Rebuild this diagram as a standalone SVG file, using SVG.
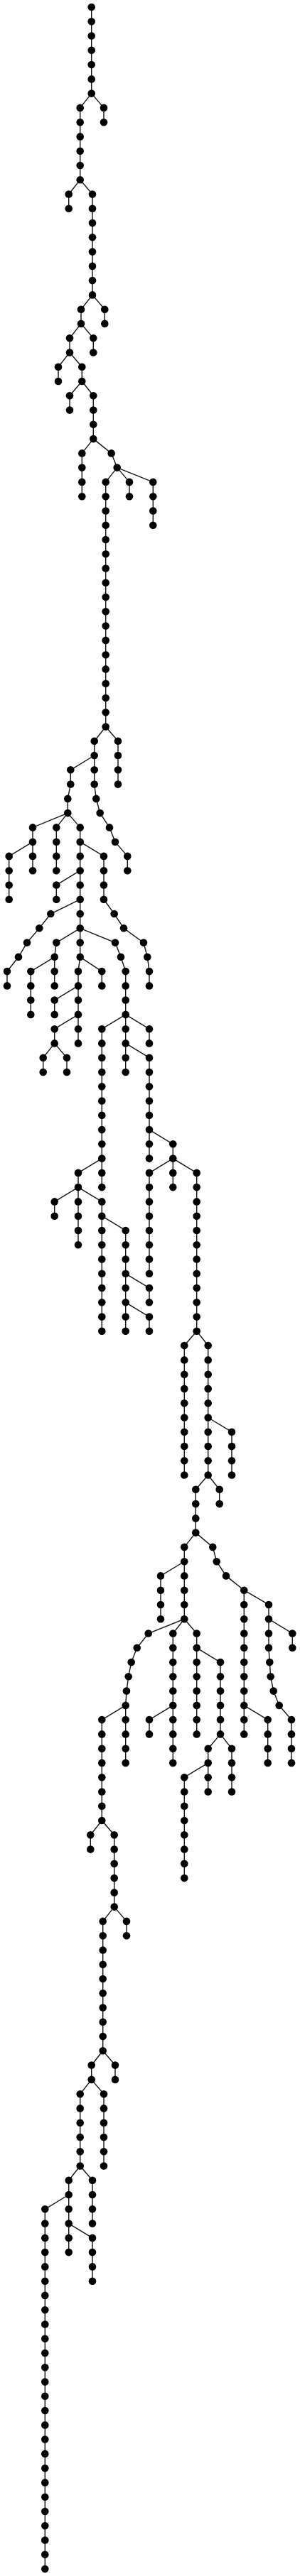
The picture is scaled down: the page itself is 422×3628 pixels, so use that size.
<svg xmlns="http://www.w3.org/2000/svg" width="422" height="3628" viewBox="0 0 422 3628">
<style>
rect.bg{fill:#fff}
#edges path{fill:none;stroke:#111;stroke-width:1.4}
.nodes circle{fill:#000}
</style>
<rect class="bg" x="0" y="0" width="422" height="3628"/>
<g id="edges">
<path d="M128.7 10V131.6"/>
<path d="M128.7 131.6L146 151.9V172.2"/>
<path d="M128.7 131.6L112.7 151.9V253.2"/>
<path d="M112.7 253.2L96.7 273.5V293.8"/>
<path d="M112.7 253.2L130 273.5V415.4"/>
<path d="M130 415.4L147.3 435.7V455.9"/>
<path d="M130 415.4L114 435.7V455.9"/>
<path d="M114 455.9L131.3 476.2V496.5"/>
<path d="M114 455.9L98 476.2V496.5"/>
<path d="M98 496.5L82 516.8V537"/>
<path d="M98 496.5L115.3 516.8V537"/>
<path d="M115.3 537L98 557.3V577.6"/>
<path d="M115.3 537L131.3 557.3V618.1"/>
<path d="M131.3 618.1L115.3 638.4V699.2"/>
<path d="M131.3 618.1L156.7 638.4L164.7 658.6"/>
<path d="M164.7 658.6L182 678.9V699.2"/>
<path d="M164.7 658.6L215.3 678.9V739.7"/>
<path d="M164.7 658.6L148.7 678.9V1023.5"/>
<path d="M148.7 1023.5L166 1043.8V1104.6"/>
<path d="M148.7 1023.5L132.7 1043.8V1064"/>
<path d="M132.7 1064L99.3 1084.3V1104.6L95.3 1124.9V1145.1"/>
<path d="M132.7 1064V1104.6L135.3 1124.9L140.7 1145.1L154 1165.4L162 1185.7L179.3 1205.9V1226.2"/>
<path d="M95.3 1145.1L46 1165.4V1185.7"/>
<path d="M95.3 1145.1L79.3 1165.4V1226.2"/>
<path d="M95.3 1145.1L112.7 1165.4V1185.7"/>
<path d="M46 1185.7L12.7 1205.9V1266.7"/>
<path d="M46 1185.7V1226.2"/>
<path d="M112.7 1185.7L146 1205.9V1266.7L160.7 1287L174 1307.3L202 1327.6L207.3 1347.8L210 1368.1V1388.4"/>
<path d="M112.7 1185.7V1226.2"/>
<path d="M112.7 1226.2L79.3 1246.5V1266.7"/>
<path d="M112.7 1226.2V1266.7"/>
<path d="M112.7 1266.7L71.3 1287L55.3 1307.3L38 1327.6L26 1347.8L10 1368.1V1388.4"/>
<path d="M112.7 1266.7V1307.3"/>
<path d="M112.7 1307.3L79.3 1327.6L76.7 1347.8"/>
<path d="M112.7 1307.3V1347.8"/>
<path d="M112.7 1307.3L162 1327.6L170 1347.8L176.7 1368.1V1428.9"/>
<path d="M76.7 1347.8L43.3 1368.1V1428.9"/>
<path d="M76.7 1347.8V1388.4"/>
<path d="M112.7 1347.8L110 1368.1V1388.4"/>
<path d="M112.7 1347.8L143.3 1368.1V1388.4"/>
<path d="M110 1388.4L76.7 1408.6V1428.9"/>
<path d="M110 1388.4V1428.9"/>
<path d="M110 1428.9L76.7 1449.2V1469.4"/>
<path d="M110 1428.9V1469.4"/>
<path d="M76.7 1469.4L60.7 1489.7V1510"/>
<path d="M76.7 1469.4L94 1489.7V1510"/>
<path d="M176.7 1428.9L143.3 1449.2V1631.6"/>
<path d="M176.7 1428.9V1469.4"/>
<path d="M176.7 1428.9L210 1449.2V1469.4"/>
<path d="M176.7 1469.4V1510"/>
<path d="M176.7 1469.4L210 1489.7V1591.1"/>
<path d="M210 1591.1V1631.6"/>
<path d="M210 1591.1L243.3 1611.3V1631.6"/>
<path d="M243.3 1631.6L210 1651.9V1793.8"/>
<path d="M243.3 1631.6V1672.1"/>
<path d="M243.3 1631.6L276.7 1651.9V1874.8"/>
<path d="M143.3 1631.6L110 1651.9V1672.1"/>
<path d="M143.3 1631.6V1672.1"/>
<path d="M110 1672.1L76.7 1692.4V1712.7"/>
<path d="M110 1672.1V1753.2"/>
<path d="M110 1672.1L143.3 1692.4V1712.7"/>
<path d="M143.3 1712.7V1874.8"/>
<path d="M143.3 1712.7L176.7 1733V1793.8"/>
<path d="M176.7 1793.8V1834.3"/>
<path d="M176.7 1793.8L210 1814V1834.3"/>
<path d="M176.7 1834.3V1874.8"/>
<path d="M176.7 1834.3L210 1854.6V1874.8"/>
<path d="M276.7 1874.8L259.3 1895.1V2077.5"/>
<path d="M276.7 1874.8L292.7 1895.1V1996.5"/>
<path d="M292.7 1996.5L326 2016.7V2077.5"/>
<path d="M292.7 1996.5V2077.5"/>
<path d="M292.7 2077.5L275.3 2097.8V2158.6"/>
<path d="M292.7 2077.5L308.7 2097.8V2118.1"/>
<path d="M275.3 2158.6L259.3 2178.9V2199.2"/>
<path d="M275.3 2158.6L299.3 2178.9L304.7 2199.2L318 2219.4L343.3 2239.7"/>
<path d="M259.3 2199.2L226 2219.4V2280.2"/>
<path d="M259.3 2199.2V2280.2"/>
<path d="M259.3 2280.2L208.7 2300.5L192.7 2320.8L184.7 2341.1L180.7 2361.3L178 2381.6L176.7 2401.9"/>
<path d="M259.3 2280.2L243.3 2300.5V2401.9"/>
<path d="M259.3 2280.2L276.7 2300.5V2320.8"/>
<path d="M176.7 2401.9L143.3 2422.1V2564"/>
<path d="M176.7 2401.9V2482.9"/>
<path d="M243.3 2401.9L210 2422.1V2442.4"/>
<path d="M243.3 2401.9V2482.9"/>
<path d="M276.7 2320.8V2442.4"/>
<path d="M276.7 2320.8L310 2341.1V2442.4"/>
<path d="M310 2442.4L292.7 2462.7V2482.9"/>
<path d="M310 2442.4L326 2462.7V2523.5"/>
<path d="M292.7 2482.9L259.3 2503.2V2645.1"/>
<path d="M292.7 2482.9V2523.5"/>
<path d="M343.3 2239.7V2401.9"/>
<path d="M343.3 2239.7L378 2260V2280.2"/>
<path d="M343.3 2401.9V2442.4"/>
<path d="M343.3 2401.9L376.7 2422.1V2482.9"/>
<path d="M378 2280.2L411.3 2300.5V2320.8"/>
<path d="M378 2280.2V2320.8L379.3 2341.1L380.7 2361.3L384.7 2381.6L392.7 2401.9L410 2422.1V2482.9"/>
<path d="M143.3 2564L127.3 2584.3V2604.6"/>
<path d="M143.3 2564L160.7 2584.3V2685.6"/>
<path d="M160.7 2685.6L144.7 2705.9V2888.3"/>
<path d="M160.7 2685.6L178 2705.9V2726.2"/>
<path d="M144.7 2888.3L162 2908.6V2928.9"/>
<path d="M144.7 2888.3L128.7 2908.6V2928.9"/>
<path d="M128.7 2928.9L112.7 2949.2V3050.5"/>
<path d="M128.7 2928.9L146 2949.2V3050.5"/>
<path d="M112.7 3050.5L130 3070.8V3131.6"/>
<path d="M112.7 3050.5L96.7 3070.8V3091"/>
<path d="M96.7 3091L63.3 3111.3V3618.1"/>
<path d="M96.7 3091V3131.6"/>
<path d="M96.7 3131.6V3172.1"/>
<path d="M96.7 3131.6L130 3151.9V3212.7"/>
</g>
<g class="nodes">
<g id="n0"><circle cx="128.7" cy="10" r="5.3"/></g>
<g id="n1"><circle cx="128.7" cy="30.3" r="5.3"/></g>
<g id="n2"><circle cx="128.7" cy="50.5" r="5.3"/></g>
<g id="n3"><circle cx="128.7" cy="70.8" r="5.3"/></g>
<g id="n4"><circle cx="128.7" cy="91.1" r="5.3"/></g>
<g id="n5"><circle cx="128.7" cy="111.4" r="5.3"/></g>
<g id="n6"><circle cx="128.7" cy="131.6" r="5.3"/></g>
<g id="n7"><circle cx="146" cy="151.9" r="5.3"/></g>
<g id="n8"><circle cx="146" cy="172.2" r="5.3"/></g>
<g id="n9"><circle cx="112.7" cy="151.9" r="5.3"/></g>
<g id="n10"><circle cx="112.7" cy="172.2" r="5.3"/></g>
<g id="n11"><circle cx="112.7" cy="192.4" r="5.3"/></g>
<g id="n12"><circle cx="112.7" cy="212.7" r="5.3"/></g>
<g id="n13"><circle cx="112.7" cy="233" r="5.3"/></g>
<g id="n14"><circle cx="112.7" cy="253.2" r="5.3"/></g>
<g id="n15"><circle cx="96.7" cy="273.5" r="5.3"/></g>
<g id="n16"><circle cx="96.7" cy="293.8" r="5.3"/></g>
<g id="n17"><circle cx="130" cy="273.5" r="5.3"/></g>
<g id="n18"><circle cx="130" cy="293.8" r="5.3"/></g>
<g id="n19"><circle cx="130" cy="314.1" r="5.3"/></g>
<g id="n20"><circle cx="130" cy="334.3" r="5.3"/></g>
<g id="n21"><circle cx="130" cy="354.6" r="5.3"/></g>
<g id="n22"><circle cx="130" cy="374.9" r="5.3"/></g>
<g id="n23"><circle cx="130" cy="395.1" r="5.3"/></g>
<g id="n24"><circle cx="130" cy="415.4" r="5.3"/></g>
<g id="n25"><circle cx="147.3" cy="435.7" r="5.3"/></g>
<g id="n26"><circle cx="147.3" cy="455.9" r="5.3"/></g>
<g id="n27"><circle cx="114" cy="435.7" r="5.3"/></g>
<g id="n28"><circle cx="114" cy="455.9" r="5.3"/></g>
<g id="n29"><circle cx="131.3" cy="476.2" r="5.3"/></g>
<g id="n30"><circle cx="131.3" cy="496.5" r="5.3"/></g>
<g id="n31"><circle cx="98" cy="476.2" r="5.3"/></g>
<g id="n32"><circle cx="98" cy="496.5" r="5.3"/></g>
<g id="n33"><circle cx="82" cy="516.8" r="5.3"/></g>
<g id="n34"><circle cx="82" cy="537" r="5.3"/></g>
<g id="n35"><circle cx="115.3" cy="516.8" r="5.3"/></g>
<g id="n36"><circle cx="115.3" cy="537" r="5.3"/></g>
<g id="n37"><circle cx="98" cy="557.3" r="5.3"/></g>
<g id="n38"><circle cx="98" cy="577.6" r="5.3"/></g>
<g id="n39"><circle cx="131.3" cy="557.3" r="5.3"/></g>
<g id="n40"><circle cx="131.3" cy="577.6" r="5.3"/></g>
<g id="n41"><circle cx="131.3" cy="597.8" r="5.3"/></g>
<g id="n42"><circle cx="131.3" cy="618.1" r="5.3"/></g>
<g id="n43"><circle cx="115.3" cy="638.4" r="5.3"/></g>
<g id="n44"><circle cx="115.3" cy="658.6" r="5.3"/></g>
<g id="n45"><circle cx="115.3" cy="678.9" r="5.3"/></g>
<g id="n46"><circle cx="115.3" cy="699.2" r="5.3"/></g>
<g id="n47"><circle cx="156.7" cy="638.4" r="5.3"/></g>
<g id="n48"><circle cx="164.7" cy="658.6" r="5.3"/></g>
<g id="n49"><circle cx="182" cy="678.9" r="5.3"/></g>
<g id="n50"><circle cx="182" cy="699.2" r="5.3"/></g>
<g id="n51"><circle cx="215.3" cy="678.9" r="5.3"/></g>
<g id="n52"><circle cx="215.3" cy="699.2" r="5.3"/></g>
<g id="n53"><circle cx="215.3" cy="719.5" r="5.3"/></g>
<g id="n54"><circle cx="215.3" cy="739.7" r="5.3"/></g>
<g id="n55"><circle cx="148.7" cy="678.9" r="5.3"/></g>
<g id="n56"><circle cx="148.7" cy="699.2" r="5.3"/></g>
<g id="n57"><circle cx="148.7" cy="719.5" r="5.3"/></g>
<g id="n58"><circle cx="148.7" cy="739.7" r="5.3"/></g>
<g id="n59"><circle cx="148.7" cy="760" r="5.3"/></g>
<g id="n60"><circle cx="148.7" cy="780.3" r="5.3"/></g>
<g id="n61"><circle cx="148.7" cy="800.5" r="5.3"/></g>
<g id="n62"><circle cx="148.7" cy="820.8" r="5.3"/></g>
<g id="n63"><circle cx="148.7" cy="841.1" r="5.3"/></g>
<g id="n64"><circle cx="148.7" cy="861.3" r="5.3"/></g>
<g id="n65"><circle cx="148.7" cy="881.6" r="5.3"/></g>
<g id="n66"><circle cx="148.7" cy="901.9" r="5.3"/></g>
<g id="n67"><circle cx="148.7" cy="922.2" r="5.3"/></g>
<g id="n68"><circle cx="148.7" cy="942.4" r="5.3"/></g>
<g id="n69"><circle cx="148.7" cy="962.7" r="5.3"/></g>
<g id="n70"><circle cx="148.7" cy="983" r="5.3"/></g>
<g id="n71"><circle cx="148.7" cy="1003.2" r="5.3"/></g>
<g id="n72"><circle cx="148.7" cy="1023.5" r="5.3"/></g>
<g id="n73"><circle cx="166" cy="1043.8" r="5.3"/></g>
<g id="n74"><circle cx="166" cy="1064" r="5.3"/></g>
<g id="n75"><circle cx="166" cy="1084.3" r="5.3"/></g>
<g id="n76"><circle cx="166" cy="1104.6" r="5.3"/></g>
<g id="n77"><circle cx="132.7" cy="1043.8" r="5.3"/></g>
<g id="n78"><circle cx="132.7" cy="1064" r="5.3"/></g>
<g id="n79"><circle cx="99.3" cy="1084.3" r="5.3"/></g>
<g id="n80"><circle cx="99.3" cy="1104.6" r="5.3"/></g>
<g id="n81"><circle cx="95.3" cy="1124.9" r="5.3"/></g>
<g id="n82"><circle cx="95.3" cy="1145.1" r="5.3"/></g>
<g id="n83"><circle cx="132.7" cy="1084.3" r="5.3"/></g>
<g id="n84"><circle cx="132.7" cy="1104.6" r="5.3"/></g>
<g id="n85"><circle cx="135.3" cy="1124.9" r="5.3"/></g>
<g id="n86"><circle cx="140.7" cy="1145.1" r="5.3"/></g>
<g id="n87"><circle cx="154" cy="1165.4" r="5.3"/></g>
<g id="n88"><circle cx="162" cy="1185.7" r="5.3"/></g>
<g id="n89"><circle cx="179.3" cy="1205.9" r="5.3"/></g>
<g id="n90"><circle cx="179.3" cy="1226.2" r="5.3"/></g>
<g id="n91"><circle cx="46" cy="1165.4" r="5.3"/></g>
<g id="n92"><circle cx="46" cy="1185.7" r="5.3"/></g>
<g id="n93"><circle cx="79.3" cy="1165.4" r="5.3"/></g>
<g id="n94"><circle cx="79.3" cy="1185.7" r="5.3"/></g>
<g id="n95"><circle cx="79.3" cy="1205.9" r="5.3"/></g>
<g id="n96"><circle cx="79.3" cy="1226.2" r="5.3"/></g>
<g id="n97"><circle cx="112.7" cy="1165.4" r="5.3"/></g>
<g id="n98"><circle cx="112.7" cy="1185.7" r="5.3"/></g>
<g id="n99"><circle cx="12.7" cy="1205.9" r="5.3"/></g>
<g id="n100"><circle cx="12.7" cy="1226.2" r="5.3"/></g>
<g id="n101"><circle cx="12.7" cy="1246.5" r="5.3"/></g>
<g id="n102"><circle cx="12.7" cy="1266.7" r="5.3"/></g>
<g id="n103"><circle cx="46" cy="1205.9" r="5.3"/></g>
<g id="n104"><circle cx="46" cy="1226.2" r="5.3"/></g>
<g id="n105"><circle cx="146" cy="1205.9" r="5.3"/></g>
<g id="n106"><circle cx="146" cy="1226.2" r="5.3"/></g>
<g id="n107"><circle cx="146" cy="1246.5" r="5.3"/></g>
<g id="n108"><circle cx="146" cy="1266.7" r="5.3"/></g>
<g id="n109"><circle cx="160.7" cy="1287" r="5.3"/></g>
<g id="n110"><circle cx="174" cy="1307.3" r="5.3"/></g>
<g id="n111"><circle cx="202" cy="1327.6" r="5.3"/></g>
<g id="n112"><circle cx="207.3" cy="1347.8" r="5.3"/></g>
<g id="n113"><circle cx="210" cy="1368.1" r="5.3"/></g>
<g id="n114"><circle cx="210" cy="1388.4" r="5.3"/></g>
<g id="n115"><circle cx="112.7" cy="1205.9" r="5.3"/></g>
<g id="n116"><circle cx="112.7" cy="1226.2" r="5.3"/></g>
<g id="n117"><circle cx="79.3" cy="1246.5" r="5.3"/></g>
<g id="n118"><circle cx="79.3" cy="1266.7" r="5.3"/></g>
<g id="n119"><circle cx="112.7" cy="1246.5" r="5.3"/></g>
<g id="n120"><circle cx="112.7" cy="1266.7" r="5.3"/></g>
<g id="n121"><circle cx="71.3" cy="1287" r="5.3"/></g>
<g id="n122"><circle cx="55.3" cy="1307.3" r="5.3"/></g>
<g id="n123"><circle cx="38" cy="1327.6" r="5.3"/></g>
<g id="n124"><circle cx="26" cy="1347.8" r="5.3"/></g>
<g id="n125"><circle cx="10" cy="1368.1" r="5.3"/></g>
<g id="n126"><circle cx="10" cy="1388.4" r="5.3"/></g>
<g id="n127"><circle cx="112.7" cy="1287" r="5.3"/></g>
<g id="n128"><circle cx="112.7" cy="1307.3" r="5.3"/></g>
<g id="n129"><circle cx="79.3" cy="1327.6" r="5.3"/></g>
<g id="n130"><circle cx="76.7" cy="1347.8" r="5.3"/></g>
<g id="n131"><circle cx="112.7" cy="1327.6" r="5.3"/></g>
<g id="n132"><circle cx="112.7" cy="1347.8" r="5.3"/></g>
<g id="n133"><circle cx="162" cy="1327.6" r="5.3"/></g>
<g id="n134"><circle cx="170" cy="1347.8" r="5.3"/></g>
<g id="n135"><circle cx="176.7" cy="1368.1" r="5.3"/></g>
<g id="n136"><circle cx="176.7" cy="1388.4" r="5.3"/></g>
<g id="n137"><circle cx="176.7" cy="1408.6" r="5.3"/></g>
<g id="n138"><circle cx="176.7" cy="1428.9" r="5.3"/></g>
<g id="n139"><circle cx="43.3" cy="1368.1" r="5.3"/></g>
<g id="n140"><circle cx="43.3" cy="1388.4" r="5.3"/></g>
<g id="n141"><circle cx="43.3" cy="1408.6" r="5.3"/></g>
<g id="n142"><circle cx="43.3" cy="1428.9" r="5.3"/></g>
<g id="n143"><circle cx="76.7" cy="1368.1" r="5.3"/></g>
<g id="n144"><circle cx="76.7" cy="1388.4" r="5.3"/></g>
<g id="n145"><circle cx="110" cy="1368.1" r="5.3"/></g>
<g id="n146"><circle cx="110" cy="1388.4" r="5.3"/></g>
<g id="n147"><circle cx="143.3" cy="1368.1" r="5.3"/></g>
<g id="n148"><circle cx="143.3" cy="1388.4" r="5.3"/></g>
<g id="n149"><circle cx="76.7" cy="1408.6" r="5.3"/></g>
<g id="n150"><circle cx="76.7" cy="1428.9" r="5.3"/></g>
<g id="n151"><circle cx="110" cy="1408.6" r="5.3"/></g>
<g id="n152"><circle cx="110" cy="1428.9" r="5.3"/></g>
<g id="n153"><circle cx="76.7" cy="1449.2" r="5.3"/></g>
<g id="n154"><circle cx="76.7" cy="1469.4" r="5.3"/></g>
<g id="n155"><circle cx="110" cy="1449.2" r="5.3"/></g>
<g id="n156"><circle cx="110" cy="1469.4" r="5.3"/></g>
<g id="n157"><circle cx="60.7" cy="1489.7" r="5.3"/></g>
<g id="n158"><circle cx="60.7" cy="1510" r="5.3"/></g>
<g id="n159"><circle cx="94" cy="1489.7" r="5.3"/></g>
<g id="n160"><circle cx="94" cy="1510" r="5.3"/></g>
<g id="n161"><circle cx="143.3" cy="1449.2" r="5.3"/></g>
<g id="n162"><circle cx="143.3" cy="1469.4" r="5.3"/></g>
<g id="n163"><circle cx="143.3" cy="1489.7" r="5.3"/></g>
<g id="n164"><circle cx="143.3" cy="1510" r="5.3"/></g>
<g id="n165"><circle cx="143.3" cy="1530.3" r="5.3"/></g>
<g id="n166"><circle cx="143.3" cy="1550.5" r="5.3"/></g>
<g id="n167"><circle cx="143.3" cy="1570.8" r="5.3"/></g>
<g id="n168"><circle cx="143.3" cy="1591.1" r="5.3"/></g>
<g id="n169"><circle cx="143.3" cy="1611.3" r="5.3"/></g>
<g id="n170"><circle cx="143.3" cy="1631.6" r="5.3"/></g>
<g id="n171"><circle cx="176.7" cy="1449.2" r="5.3"/></g>
<g id="n172"><circle cx="176.7" cy="1469.4" r="5.3"/></g>
<g id="n173"><circle cx="210" cy="1449.2" r="5.3"/></g>
<g id="n174"><circle cx="210" cy="1469.4" r="5.3"/></g>
<g id="n175"><circle cx="176.7" cy="1489.7" r="5.3"/></g>
<g id="n176"><circle cx="176.7" cy="1510" r="5.3"/></g>
<g id="n177"><circle cx="210" cy="1489.7" r="5.3"/></g>
<g id="n178"><circle cx="210" cy="1510" r="5.3"/></g>
<g id="n179"><circle cx="210" cy="1530.3" r="5.3"/></g>
<g id="n180"><circle cx="210" cy="1550.5" r="5.3"/></g>
<g id="n181"><circle cx="210" cy="1570.8" r="5.3"/></g>
<g id="n182"><circle cx="210" cy="1591.1" r="5.3"/></g>
<g id="n183"><circle cx="210" cy="1611.3" r="5.3"/></g>
<g id="n184"><circle cx="210" cy="1631.6" r="5.3"/></g>
<g id="n185"><circle cx="243.3" cy="1611.3" r="5.3"/></g>
<g id="n186"><circle cx="243.3" cy="1631.6" r="5.3"/></g>
<g id="n187"><circle cx="210" cy="1651.9" r="5.3"/></g>
<g id="n188"><circle cx="210" cy="1672.1" r="5.3"/></g>
<g id="n189"><circle cx="210" cy="1692.4" r="5.3"/></g>
<g id="n190"><circle cx="210" cy="1712.7" r="5.3"/></g>
<g id="n191"><circle cx="210" cy="1733" r="5.3"/></g>
<g id="n192"><circle cx="210" cy="1753.2" r="5.3"/></g>
<g id="n193"><circle cx="210" cy="1773.5" r="5.3"/></g>
<g id="n194"><circle cx="210" cy="1793.8" r="5.3"/></g>
<g id="n195"><circle cx="243.3" cy="1651.9" r="5.3"/></g>
<g id="n196"><circle cx="243.3" cy="1672.1" r="5.3"/></g>
<g id="n197"><circle cx="276.7" cy="1651.9" r="5.3"/></g>
<g id="n198"><circle cx="276.7" cy="1672.1" r="5.3"/></g>
<g id="n199"><circle cx="276.7" cy="1692.4" r="5.3"/></g>
<g id="n200"><circle cx="276.7" cy="1712.7" r="5.3"/></g>
<g id="n201"><circle cx="276.7" cy="1733" r="5.3"/></g>
<g id="n202"><circle cx="276.7" cy="1753.2" r="5.3"/></g>
<g id="n203"><circle cx="276.7" cy="1773.5" r="5.3"/></g>
<g id="n204"><circle cx="276.7" cy="1793.8" r="5.3"/></g>
<g id="n205"><circle cx="276.7" cy="1814" r="5.3"/></g>
<g id="n206"><circle cx="276.7" cy="1834.3" r="5.3"/></g>
<g id="n207"><circle cx="276.7" cy="1854.6" r="5.3"/></g>
<g id="n208"><circle cx="276.7" cy="1874.8" r="5.3"/></g>
<g id="n209"><circle cx="110" cy="1651.9" r="5.3"/></g>
<g id="n210"><circle cx="110" cy="1672.1" r="5.3"/></g>
<g id="n211"><circle cx="143.3" cy="1651.9" r="5.3"/></g>
<g id="n212"><circle cx="143.3" cy="1672.1" r="5.3"/></g>
<g id="n213"><circle cx="76.7" cy="1692.4" r="5.3"/></g>
<g id="n214"><circle cx="76.7" cy="1712.7" r="5.3"/></g>
<g id="n215"><circle cx="110" cy="1692.4" r="5.3"/></g>
<g id="n216"><circle cx="110" cy="1712.7" r="5.3"/></g>
<g id="n217"><circle cx="110" cy="1733" r="5.3"/></g>
<g id="n218"><circle cx="110" cy="1753.2" r="5.3"/></g>
<g id="n219"><circle cx="143.3" cy="1692.4" r="5.3"/></g>
<g id="n220"><circle cx="143.3" cy="1712.7" r="5.3"/></g>
<g id="n221"><circle cx="143.3" cy="1733" r="5.3"/></g>
<g id="n222"><circle cx="143.3" cy="1753.2" r="5.3"/></g>
<g id="n223"><circle cx="143.3" cy="1773.5" r="5.3"/></g>
<g id="n224"><circle cx="143.3" cy="1793.8" r="5.3"/></g>
<g id="n225"><circle cx="143.3" cy="1814" r="5.3"/></g>
<g id="n226"><circle cx="143.3" cy="1834.3" r="5.3"/></g>
<g id="n227"><circle cx="143.3" cy="1854.6" r="5.3"/></g>
<g id="n228"><circle cx="143.3" cy="1874.8" r="5.3"/></g>
<g id="n229"><circle cx="176.7" cy="1733" r="5.3"/></g>
<g id="n230"><circle cx="176.7" cy="1753.2" r="5.3"/></g>
<g id="n231"><circle cx="176.7" cy="1773.5" r="5.3"/></g>
<g id="n232"><circle cx="176.7" cy="1793.8" r="5.3"/></g>
<g id="n233"><circle cx="176.7" cy="1814" r="5.3"/></g>
<g id="n234"><circle cx="176.7" cy="1834.3" r="5.3"/></g>
<g id="n235"><circle cx="210" cy="1814" r="5.3"/></g>
<g id="n236"><circle cx="210" cy="1834.3" r="5.3"/></g>
<g id="n237"><circle cx="176.7" cy="1854.6" r="5.3"/></g>
<g id="n238"><circle cx="176.7" cy="1874.8" r="5.3"/></g>
<g id="n239"><circle cx="210" cy="1854.6" r="5.3"/></g>
<g id="n240"><circle cx="210" cy="1874.8" r="5.3"/></g>
<g id="n241"><circle cx="259.3" cy="1895.1" r="5.3"/></g>
<g id="n242"><circle cx="259.3" cy="1915.4" r="5.3"/></g>
<g id="n243"><circle cx="259.3" cy="1935.7" r="5.3"/></g>
<g id="n244"><circle cx="259.3" cy="1955.9" r="5.3"/></g>
<g id="n245"><circle cx="259.3" cy="1976.2" r="5.3"/></g>
<g id="n246"><circle cx="259.3" cy="1996.5" r="5.3"/></g>
<g id="n247"><circle cx="259.3" cy="2016.7" r="5.3"/></g>
<g id="n248"><circle cx="259.3" cy="2037" r="5.3"/></g>
<g id="n249"><circle cx="259.3" cy="2057.3" r="5.3"/></g>
<g id="n250"><circle cx="259.3" cy="2077.5" r="5.3"/></g>
<g id="n251"><circle cx="292.7" cy="1895.1" r="5.3"/></g>
<g id="n252"><circle cx="292.7" cy="1915.4" r="5.3"/></g>
<g id="n253"><circle cx="292.7" cy="1935.7" r="5.3"/></g>
<g id="n254"><circle cx="292.7" cy="1955.9" r="5.3"/></g>
<g id="n255"><circle cx="292.7" cy="1976.2" r="5.3"/></g>
<g id="n256"><circle cx="292.7" cy="1996.5" r="5.3"/></g>
<g id="n257"><circle cx="326" cy="2016.7" r="5.3"/></g>
<g id="n258"><circle cx="326" cy="2037" r="5.3"/></g>
<g id="n259"><circle cx="326" cy="2057.3" r="5.3"/></g>
<g id="n260"><circle cx="326" cy="2077.5" r="5.3"/></g>
<g id="n261"><circle cx="292.7" cy="2016.7" r="5.3"/></g>
<g id="n262"><circle cx="292.7" cy="2037" r="5.3"/></g>
<g id="n263"><circle cx="292.7" cy="2057.3" r="5.3"/></g>
<g id="n264"><circle cx="292.7" cy="2077.5" r="5.3"/></g>
<g id="n265"><circle cx="275.3" cy="2097.8" r="5.3"/></g>
<g id="n266"><circle cx="275.3" cy="2118.1" r="5.3"/></g>
<g id="n267"><circle cx="275.3" cy="2138.4" r="5.3"/></g>
<g id="n268"><circle cx="275.3" cy="2158.6" r="5.3"/></g>
<g id="n269"><circle cx="308.7" cy="2097.8" r="5.3"/></g>
<g id="n270"><circle cx="308.7" cy="2118.1" r="5.3"/></g>
<g id="n271"><circle cx="259.3" cy="2178.9" r="5.3"/></g>
<g id="n272"><circle cx="259.3" cy="2199.2" r="5.3"/></g>
<g id="n273"><circle cx="299.3" cy="2178.9" r="5.3"/></g>
<g id="n274"><circle cx="304.7" cy="2199.2" r="5.3"/></g>
<g id="n275"><circle cx="318" cy="2219.4" r="5.3"/></g>
<g id="n276"><circle cx="343.3" cy="2239.7" r="5.3"/></g>
<g id="n277"><circle cx="226" cy="2219.4" r="5.3"/></g>
<g id="n278"><circle cx="226" cy="2239.7" r="5.3"/></g>
<g id="n279"><circle cx="226" cy="2260" r="5.3"/></g>
<g id="n280"><circle cx="226" cy="2280.2" r="5.3"/></g>
<g id="n281"><circle cx="259.3" cy="2219.4" r="5.3"/></g>
<g id="n282"><circle cx="259.3" cy="2239.7" r="5.3"/></g>
<g id="n283"><circle cx="259.3" cy="2260" r="5.3"/></g>
<g id="n284"><circle cx="259.3" cy="2280.2" r="5.3"/></g>
<g id="n285"><circle cx="208.7" cy="2300.5" r="5.3"/></g>
<g id="n286"><circle cx="192.7" cy="2320.8" r="5.3"/></g>
<g id="n287"><circle cx="184.7" cy="2341.1" r="5.3"/></g>
<g id="n288"><circle cx="180.7" cy="2361.3" r="5.3"/></g>
<g id="n289"><circle cx="178" cy="2381.6" r="5.3"/></g>
<g id="n290"><circle cx="176.7" cy="2401.9" r="5.3"/></g>
<g id="n291"><circle cx="243.3" cy="2300.5" r="5.3"/></g>
<g id="n292"><circle cx="243.3" cy="2320.8" r="5.3"/></g>
<g id="n293"><circle cx="243.3" cy="2341.1" r="5.3"/></g>
<g id="n294"><circle cx="243.3" cy="2361.3" r="5.3"/></g>
<g id="n295"><circle cx="243.3" cy="2381.6" r="5.3"/></g>
<g id="n296"><circle cx="243.3" cy="2401.9" r="5.3"/></g>
<g id="n297"><circle cx="276.7" cy="2300.5" r="5.3"/></g>
<g id="n298"><circle cx="276.7" cy="2320.8" r="5.3"/></g>
<g id="n299"><circle cx="143.3" cy="2422.1" r="5.3"/></g>
<g id="n300"><circle cx="143.3" cy="2442.4" r="5.3"/></g>
<g id="n301"><circle cx="143.3" cy="2462.7" r="5.3"/></g>
<g id="n302"><circle cx="143.3" cy="2482.9" r="5.3"/></g>
<g id="n303"><circle cx="143.3" cy="2503.2" r="5.3"/></g>
<g id="n304"><circle cx="143.3" cy="2523.5" r="5.3"/></g>
<g id="n305"><circle cx="143.3" cy="2543.8" r="5.3"/></g>
<g id="n306"><circle cx="143.3" cy="2564" r="5.3"/></g>
<g id="n307"><circle cx="176.7" cy="2422.1" r="5.3"/></g>
<g id="n308"><circle cx="176.7" cy="2442.4" r="5.3"/></g>
<g id="n309"><circle cx="176.7" cy="2462.7" r="5.3"/></g>
<g id="n310"><circle cx="176.7" cy="2482.9" r="5.3"/></g>
<g id="n311"><circle cx="210" cy="2422.1" r="5.3"/></g>
<g id="n312"><circle cx="210" cy="2442.4" r="5.3"/></g>
<g id="n313"><circle cx="243.3" cy="2422.1" r="5.3"/></g>
<g id="n314"><circle cx="243.3" cy="2442.4" r="5.3"/></g>
<g id="n315"><circle cx="243.3" cy="2462.7" r="5.3"/></g>
<g id="n316"><circle cx="243.3" cy="2482.9" r="5.3"/></g>
<g id="n317"><circle cx="276.7" cy="2341.1" r="5.3"/></g>
<g id="n318"><circle cx="276.7" cy="2361.3" r="5.3"/></g>
<g id="n319"><circle cx="276.7" cy="2381.6" r="5.3"/></g>
<g id="n320"><circle cx="276.7" cy="2401.9" r="5.3"/></g>
<g id="n321"><circle cx="276.7" cy="2422.1" r="5.3"/></g>
<g id="n322"><circle cx="276.7" cy="2442.4" r="5.3"/></g>
<g id="n323"><circle cx="310" cy="2341.1" r="5.3"/></g>
<g id="n324"><circle cx="310" cy="2361.3" r="5.3"/></g>
<g id="n325"><circle cx="310" cy="2381.6" r="5.3"/></g>
<g id="n326"><circle cx="310" cy="2401.9" r="5.3"/></g>
<g id="n327"><circle cx="310" cy="2422.1" r="5.3"/></g>
<g id="n328"><circle cx="310" cy="2442.4" r="5.3"/></g>
<g id="n329"><circle cx="292.7" cy="2462.7" r="5.3"/></g>
<g id="n330"><circle cx="292.7" cy="2482.9" r="5.3"/></g>
<g id="n331"><circle cx="326" cy="2462.7" r="5.3"/></g>
<g id="n332"><circle cx="326" cy="2482.9" r="5.3"/></g>
<g id="n333"><circle cx="326" cy="2503.2" r="5.3"/></g>
<g id="n334"><circle cx="326" cy="2523.5" r="5.3"/></g>
<g id="n335"><circle cx="259.3" cy="2503.2" r="5.3"/></g>
<g id="n336"><circle cx="259.3" cy="2523.5" r="5.3"/></g>
<g id="n337"><circle cx="259.3" cy="2543.8" r="5.3"/></g>
<g id="n338"><circle cx="259.3" cy="2564" r="5.3"/></g>
<g id="n339"><circle cx="259.3" cy="2584.3" r="5.3"/></g>
<g id="n340"><circle cx="259.3" cy="2604.6" r="5.3"/></g>
<g id="n341"><circle cx="259.3" cy="2624.8" r="5.3"/></g>
<g id="n342"><circle cx="259.3" cy="2645.1" r="5.3"/></g>
<g id="n343"><circle cx="292.7" cy="2503.2" r="5.3"/></g>
<g id="n344"><circle cx="292.7" cy="2523.5" r="5.3"/></g>
<g id="n345"><circle cx="343.3" cy="2260" r="5.3"/></g>
<g id="n346"><circle cx="343.3" cy="2280.2" r="5.3"/></g>
<g id="n347"><circle cx="343.3" cy="2300.5" r="5.3"/></g>
<g id="n348"><circle cx="343.3" cy="2320.8" r="5.3"/></g>
<g id="n349"><circle cx="343.3" cy="2341.1" r="5.3"/></g>
<g id="n350"><circle cx="343.3" cy="2361.3" r="5.3"/></g>
<g id="n351"><circle cx="343.3" cy="2381.6" r="5.3"/></g>
<g id="n352"><circle cx="343.3" cy="2401.9" r="5.3"/></g>
<g id="n353"><circle cx="378" cy="2260" r="5.3"/></g>
<g id="n354"><circle cx="378" cy="2280.2" r="5.3"/></g>
<g id="n355"><circle cx="343.3" cy="2422.1" r="5.3"/></g>
<g id="n356"><circle cx="343.3" cy="2442.4" r="5.3"/></g>
<g id="n357"><circle cx="376.7" cy="2422.1" r="5.3"/></g>
<g id="n358"><circle cx="376.7" cy="2442.4" r="5.3"/></g>
<g id="n359"><circle cx="376.7" cy="2462.7" r="5.3"/></g>
<g id="n360"><circle cx="376.7" cy="2482.9" r="5.3"/></g>
<g id="n361"><circle cx="411.3" cy="2300.5" r="5.3"/></g>
<g id="n362"><circle cx="411.3" cy="2320.8" r="5.3"/></g>
<g id="n363"><circle cx="378" cy="2300.5" r="5.3"/></g>
<g id="n364"><circle cx="378" cy="2320.8" r="5.3"/></g>
<g id="n365"><circle cx="379.3" cy="2341.1" r="5.3"/></g>
<g id="n366"><circle cx="380.7" cy="2361.3" r="5.3"/></g>
<g id="n367"><circle cx="384.7" cy="2381.6" r="5.3"/></g>
<g id="n368"><circle cx="392.7" cy="2401.9" r="5.3"/></g>
<g id="n369"><circle cx="410" cy="2422.1" r="5.3"/></g>
<g id="n370"><circle cx="410" cy="2442.4" r="5.3"/></g>
<g id="n371"><circle cx="410" cy="2462.7" r="5.3"/></g>
<g id="n372"><circle cx="410" cy="2482.9" r="5.3"/></g>
<g id="n373"><circle cx="127.3" cy="2584.3" r="5.3"/></g>
<g id="n374"><circle cx="127.3" cy="2604.6" r="5.3"/></g>
<g id="n375"><circle cx="160.7" cy="2584.3" r="5.3"/></g>
<g id="n376"><circle cx="160.7" cy="2604.6" r="5.3"/></g>
<g id="n377"><circle cx="160.7" cy="2624.8" r="5.3"/></g>
<g id="n378"><circle cx="160.7" cy="2645.1" r="5.3"/></g>
<g id="n379"><circle cx="160.7" cy="2665.4" r="5.3"/></g>
<g id="n380"><circle cx="160.7" cy="2685.6" r="5.3"/></g>
<g id="n381"><circle cx="144.7" cy="2705.9" r="5.3"/></g>
<g id="n382"><circle cx="144.7" cy="2726.2" r="5.3"/></g>
<g id="n383"><circle cx="144.7" cy="2746.5" r="5.3"/></g>
<g id="n384"><circle cx="144.7" cy="2766.7" r="5.3"/></g>
<g id="n385"><circle cx="144.7" cy="2787" r="5.3"/></g>
<g id="n386"><circle cx="144.7" cy="2807.3" r="5.3"/></g>
<g id="n387"><circle cx="144.7" cy="2827.5" r="5.3"/></g>
<g id="n388"><circle cx="144.7" cy="2847.8" r="5.3"/></g>
<g id="n389"><circle cx="144.7" cy="2868.1" r="5.3"/></g>
<g id="n390"><circle cx="144.7" cy="2888.3" r="5.3"/></g>
<g id="n391"><circle cx="178" cy="2705.9" r="5.3"/></g>
<g id="n392"><circle cx="178" cy="2726.2" r="5.3"/></g>
<g id="n393"><circle cx="162" cy="2908.6" r="5.3"/></g>
<g id="n394"><circle cx="162" cy="2928.9" r="5.3"/></g>
<g id="n395"><circle cx="128.7" cy="2908.6" r="5.3"/></g>
<g id="n396"><circle cx="128.7" cy="2928.9" r="5.3"/></g>
<g id="n397"><circle cx="112.7" cy="2949.2" r="5.3"/></g>
<g id="n398"><circle cx="112.7" cy="2969.4" r="5.3"/></g>
<g id="n399"><circle cx="112.7" cy="2989.7" r="5.3"/></g>
<g id="n400"><circle cx="112.7" cy="3010" r="5.3"/></g>
<g id="n401"><circle cx="112.7" cy="3030.2" r="5.3"/></g>
<g id="n402"><circle cx="112.7" cy="3050.5" r="5.3"/></g>
<g id="n403"><circle cx="146" cy="2949.2" r="5.3"/></g>
<g id="n404"><circle cx="146" cy="2969.4" r="5.3"/></g>
<g id="n405"><circle cx="146" cy="2989.7" r="5.3"/></g>
<g id="n406"><circle cx="146" cy="3010" r="5.3"/></g>
<g id="n407"><circle cx="146" cy="3030.2" r="5.3"/></g>
<g id="n408"><circle cx="146" cy="3050.5" r="5.3"/></g>
<g id="n409"><circle cx="130" cy="3070.8" r="5.3"/></g>
<g id="n410"><circle cx="130" cy="3091" r="5.3"/></g>
<g id="n411"><circle cx="130" cy="3111.3" r="5.3"/></g>
<g id="n412"><circle cx="130" cy="3131.6" r="5.3"/></g>
<g id="n413"><circle cx="96.7" cy="3070.8" r="5.3"/></g>
<g id="n414"><circle cx="96.7" cy="3091" r="5.3"/></g>
<g id="n415"><circle cx="63.3" cy="3111.3" r="5.3"/></g>
<g id="n416"><circle cx="63.3" cy="3131.6" r="5.3"/></g>
<g id="n417"><circle cx="63.3" cy="3151.9" r="5.3"/></g>
<g id="n418"><circle cx="63.3" cy="3172.1" r="5.3"/></g>
<g id="n419"><circle cx="63.3" cy="3192.4" r="5.3"/></g>
<g id="n420"><circle cx="63.3" cy="3212.7" r="5.3"/></g>
<g id="n421"><circle cx="63.3" cy="3232.9" r="5.3"/></g>
<g id="n422"><circle cx="63.3" cy="3253.2" r="5.3"/></g>
<g id="n423"><circle cx="63.3" cy="3273.5" r="5.3"/></g>
<g id="n424"><circle cx="63.3" cy="3293.7" r="5.3"/></g>
<g id="n425"><circle cx="63.3" cy="3314" r="5.3"/></g>
<g id="n426"><circle cx="63.3" cy="3334.3" r="5.3"/></g>
<g id="n427"><circle cx="63.3" cy="3354.6" r="5.3"/></g>
<g id="n428"><circle cx="63.3" cy="3374.8" r="5.3"/></g>
<g id="n429"><circle cx="63.3" cy="3395.1" r="5.3"/></g>
<g id="n430"><circle cx="63.3" cy="3415.4" r="5.3"/></g>
<g id="n431"><circle cx="63.3" cy="3435.6" r="5.3"/></g>
<g id="n432"><circle cx="63.3" cy="3455.9" r="5.3"/></g>
<g id="n433"><circle cx="63.3" cy="3476.2" r="5.3"/></g>
<g id="n434"><circle cx="63.3" cy="3496.4" r="5.3"/></g>
<g id="n435"><circle cx="63.3" cy="3516.7" r="5.3"/></g>
<g id="n436"><circle cx="63.3" cy="3537" r="5.3"/></g>
<g id="n437"><circle cx="63.3" cy="3557.3" r="5.3"/></g>
<g id="n438"><circle cx="63.3" cy="3577.5" r="5.3"/></g>
<g id="n439"><circle cx="63.3" cy="3597.8" r="5.3"/></g>
<g id="n440"><circle cx="63.3" cy="3618.1" r="5.3"/></g>
<g id="n441"><circle cx="96.7" cy="3111.3" r="5.3"/></g>
<g id="n442"><circle cx="96.7" cy="3131.6" r="5.3"/></g>
<g id="n443"><circle cx="96.7" cy="3151.9" r="5.3"/></g>
<g id="n444"><circle cx="96.7" cy="3172.1" r="5.3"/></g>
<g id="n445"><circle cx="130" cy="3151.9" r="5.3"/></g>
<g id="n446"><circle cx="130" cy="3172.1" r="5.3"/></g>
<g id="n447"><circle cx="130" cy="3192.4" r="5.3"/></g>
<g id="n448"><circle cx="130" cy="3212.7" r="5.3"/></g>
</g>
</svg>
